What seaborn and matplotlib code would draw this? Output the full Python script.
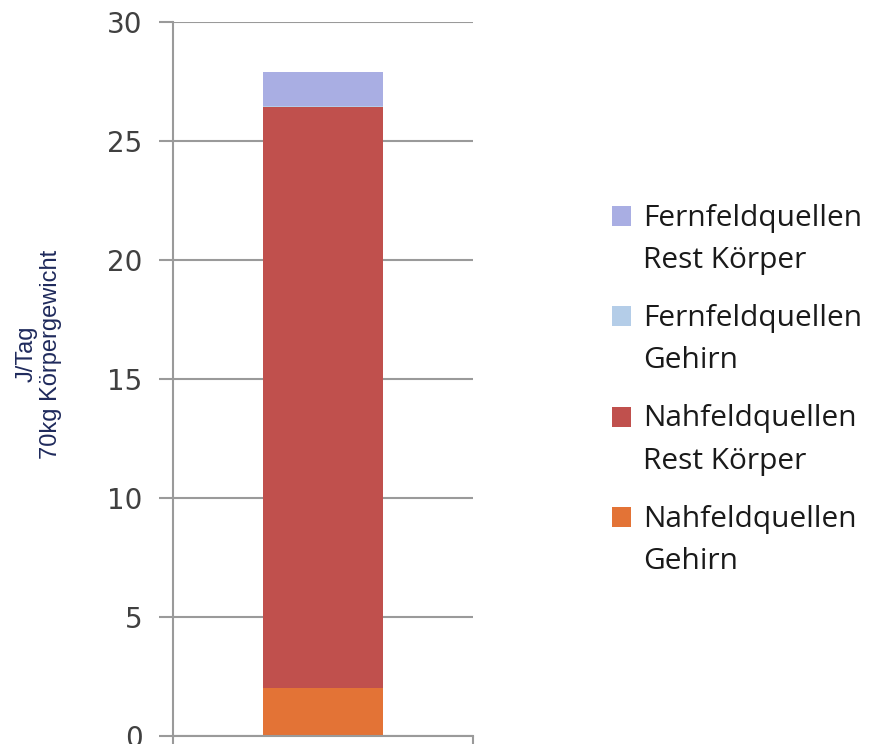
import matplotlib
matplotlib.use("Agg")
import matplotlib.pyplot as plt
import matplotlib.patches as mpatches
from matplotlib.legend_handler import HandlerPatch
import seaborn as sns
import numpy as np
import pandas as pd

# stacked segments, bottom to top
segments = ["Nahfeldquellen\nGehirn", "Nahfeldquellen\nRest Körper",
            "Fernfeldquellen\nGehirn", "Fernfeldquellen\nRest Körper"]
values = [2.0, 24.45, 0.03, 1.42]
colors = ["#e37336", "#c0504d", "#b4cde8", "#a9aee3"]
category = [""]
y_ticks = [0, 5, 10, 15, 20, 25, 30]
y_label = "J/Tag\n70kg Körpergewicht"

sns.set_style("white", {"ytick.left": True, "xtick.bottom": True})

fig = plt.figure(figsize=(8.75, 7.44), dpi=100)
ax = fig.add_axes([0.198, 0.011, 0.343, 0.959])

bottom = 0.0
for seg, val, col in zip(segments, values, colors):
    df = pd.DataFrame({"cat": category, "val": [val]})
    sns.barplot(data=df, x="cat", y="val", color=col, width=0.4,
                bottom=bottom, ax=ax, saturation=1,
                edgecolor="none", linewidth=0)
    bottom += val

ax.set_xlim(-0.5, 0.5)
ax.set_ylim(0, 30)
ax.set_yticks(y_ticks)
ax.set_yticklabels([str(t) for t in y_ticks], fontsize=20, color="#404040",
                   family="DejaVu Sans")
ax.set_xticks([])
ax.set_xticks([-0.5, 0.5], minor=True)
ax.tick_params(axis="x", which="minor", length=9, color="#9a9a9a", width=1.5,
               direction="out", bottom=True)
ax.tick_params(axis="y", length=10, color="#9a9a9a", width=1.5,
               direction="out", pad=12, left=True)
ax.set_xlabel("")
ax.yaxis.grid(True, color="#9a9a9a", linewidth=1.5)
ax.set_axisbelow(True)
for side in ["top", "right"]:
    ax.spines[side].set_visible(False)
for side in ["left", "bottom"]:
    ax.spines[side].set_color("#9a9a9a")
    ax.spines[side].set_linewidth(1.5)

ax.set_ylabel(y_label, fontsize=17, color="#1f2a5c", family="Liberation Sans",
              linespacing=1.15)
ax.yaxis.set_label_coords(-0.37, 0.535)


def top_square(legend, orig_handle, xdescent, ydescent, width, height, fontsize):
    # square next to the first line of a two-line label
    return mpatches.Rectangle((-xdescent, -ydescent + 0.8 * fontsize), width, height)


handles = [mpatches.Patch(facecolor=c, edgecolor="none") for c in colors]
leg = fig.legend(handles[::-1], segments[::-1], loc="center left",
                 bbox_to_anchor=(0.699, 0.476), frameon=False, borderpad=0,
                 borderaxespad=0,
                 prop={"family": "Open Sans", "size": 21.5},
                 handlelength=0.66, handleheight=0.66, handletextpad=0.38,
                 labelspacing=0.97,
                 handler_map={mpatches.Patch: HandlerPatch(patch_func=top_square)})
for t in leg.get_texts():
    t.set_linespacing(1.6)
    t.set_color("#1a1a1a")

fig.savefig("out.png", dpi=100)
